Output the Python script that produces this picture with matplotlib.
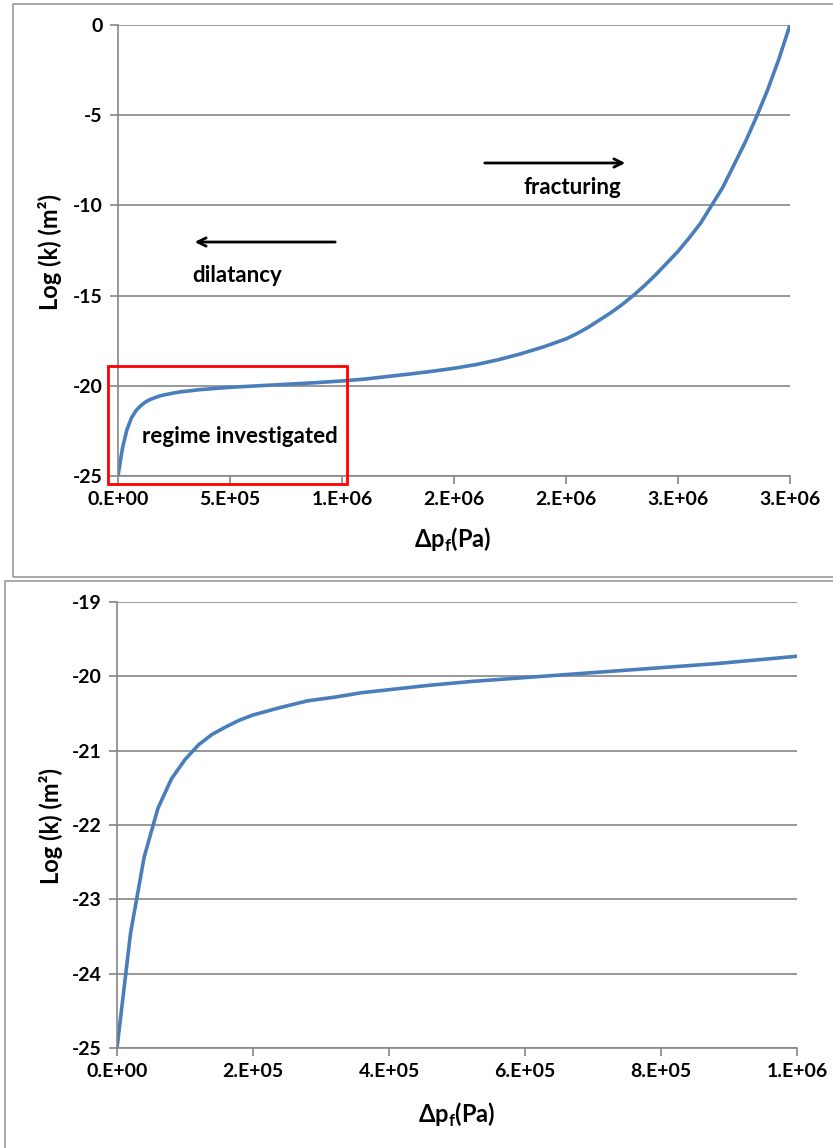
import matplotlib
matplotlib.use("Agg")
import matplotlib.pyplot as plt
from matplotlib.patches import Rectangle

plt.rcParams['font.family'] = ['Lato', 'DejaVu Sans']
plt.rcParams['font.weight'] = 'bold'
plt.rcParams['mathtext.fontset'] = 'custom'
plt.rcParams['mathtext.rm'] = 'Lato:bold'
plt.rcParams['mathtext.bf'] = 'Lato:bold'

# pressure change (Pa) and log permeability (m^2)
dp = [0, 2e4, 4e4, 6e4, 8e4, 1e5, 1.2e5, 1.4e5, 1.6e5, 1.8e5, 2e5, 2.4e5, 2.8e5,
      3.2e5, 3.6e5, 4e5, 4.6e5, 5.2e5, 5.8e5, 6.4e5, 7e5, 7.6e5, 8.2e5, 8.8e5,
      9.4e5, 1e6, 1.1e6, 1.2e6, 1.3e6, 1.4e6, 1.5e6, 1.6e6, 1.7e6, 1.8e6, 1.9e6,
      2.0e6, 2.05e6, 2.1e6, 2.15e6, 2.2e6, 2.25e6, 2.3e6, 2.35e6, 2.4e6, 2.45e6,
      2.5e6, 2.55e6, 2.6e6, 2.65e6, 2.7e6, 2.75e6, 2.8e6, 2.85e6, 2.9e6, 2.95e6, 3.0e6]
logk = [-25, -23.45, -22.43, -21.78, -21.38, -21.12, -20.92, -20.78, -20.68, -20.59,
        -20.52, -20.42, -20.33, -20.28, -20.22, -20.18, -20.12, -20.07, -20.03,
        -19.99, -19.95, -19.91, -19.87, -19.83, -19.78, -19.73, -19.63, -19.49,
        -19.35, -19.2, -19.03, -18.82, -18.55, -18.22, -17.84,
        -17.4, -17.1, -16.75, -16.35, -15.95, -15.5, -15.0, -14.45, -13.85, -13.2,
        -12.55, -11.8, -11.0, -10.0, -9.0, -7.75, -6.5, -5.1, -3.6, -1.9, 0]

top_xticks = [0, 5e5, 1e6, 1.5e6, 2e6, 2.5e6, 3e6]
top_xlabels = ["0.E+00", "5.E+05", "1.E+06", "2.E+06", "2.E+06", "3.E+06", "3.E+06"]
top_yticks = [0, -5, -10, -15, -20, -25]

bot_xticks = [0, 2e5, 4e5, 6e5, 8e5, 1e6]
bot_xlabels = ["0.E+00", "2.E+05", "4.E+05", "6.E+05", "8.E+05", "1.E+06"]
bot_yticks = [-19, -20, -21, -22, -23, -24, -25]

LINE = "#4A7EBB"
GRID = "#868686"
W, H = 833, 1148


def style(ax):
    for s in ["top", "right"]:
        ax.spines[s].set_visible(False)
    for s in ["left", "bottom"]:
        ax.spines[s].set_color(GRID)
        ax.spines[s].set_linewidth(1.2)
    ax.yaxis.grid(True, color=GRID, linewidth=1.2)
    ax.set_axisbelow(True)
    ax.tick_params(axis="both", direction="out", length=6, width=1.2, color=GRID,
                   labelsize=14, pad=5)
    for lab in ax.get_xticklabels() + ax.get_yticklabels():
        lab.set_fontweight("bold")


fig = plt.figure(figsize=(W / 100, H / 100), dpi=100)

# panel frames
fig.patches.append(Rectangle((13 / W, 1 - 577 / H), 1.0, 573 / H, transform=fig.transFigure,
                             fill=False, edgecolor="#9a9a9a", linewidth=1.2))
fig.patches.append(Rectangle((5 / W, -0.05), 1.0, 0.05 + 1 - 581 / H, transform=fig.transFigure,
                             fill=False, edgecolor="#9a9a9a", linewidth=1.2))

# top panel
ax1 = fig.add_axes([118 / W, 1 - 476 / H, 672 / W, 451 / H])
ax1.plot(dp, logk, color=LINE, linewidth=2.6)
ax1.set_xlim(0, 3e6)
ax1.set_ylim(-25, 0)
ax1.set_xticks(top_xticks)
ax1.set_xticklabels(top_xlabels)
ax1.set_yticks(top_yticks)
ax1.set_yticklabels([str(v) for v in top_yticks])
style(ax1)

ax1.add_patch(Rectangle((-4.3e4, -25.44), 1.064e6, 6.55, fill=False, edgecolor="red",
                        linewidth=2, clip_on=False, zorder=5))
ax1.text(5.45e5, -22.82, "regime investigated", fontsize=16, fontweight="bold",
         ha="center", va="center")
ax1.annotate("", xy=(3.3e5, -12.03), xytext=(9.82e5, -12.03),
             arrowprops=dict(arrowstyle="->,head_length=0.6,head_width=0.3", lw=2, color="black"))
ax1.text(5.3e5, -13.86, "dilatancy", fontsize=16, fontweight="bold", ha="center", va="center")
ax1.annotate("", xy=(2.277e6, -7.65), xytext=(1.625e6, -7.65),
             arrowprops=dict(arrowstyle="->,head_length=0.6,head_width=0.3", lw=2, color="black"))
ax1.text(2.03e6, -9.03, "fracturing", fontsize=16, fontweight="bold", ha="center", va="center")

fig.text(50 / W, 1 - 252 / H, "Log (k) (m²)", rotation=90, fontsize=17, fontweight="bold",
         ha="center", va="center")
fig.text(453 / W, 1 - 540 / H, r"Δp$_\mathbf{f}$(Pa)", fontsize=17, fontweight="bold",
         ha="center", va="center")

# bottom panel
ax2 = fig.add_axes([117 / W, 1 - 1048 / H, 680 / W, 446 / H])
ax2.plot(dp, logk, color=LINE, linewidth=2.6)
ax2.set_xlim(0, 1e6)
ax2.set_ylim(-25, -19)
ax2.set_xticks(bot_xticks)
ax2.set_xticklabels(bot_xlabels)
ax2.set_yticks(bot_yticks)
ax2.set_yticklabels([str(v) for v in bot_yticks])
style(ax2)

fig.text(51 / W, 1 - 826 / H, "Log (k) (m²)", rotation=90, fontsize=17, fontweight="bold",
         ha="center", va="center")
fig.text(457 / W, 1 - 1115 / H, r"Δp$_\mathbf{f}$(Pa)", fontsize=17, fontweight="bold",
         ha="center", va="center")

fig.savefig("out.png", dpi=100)
